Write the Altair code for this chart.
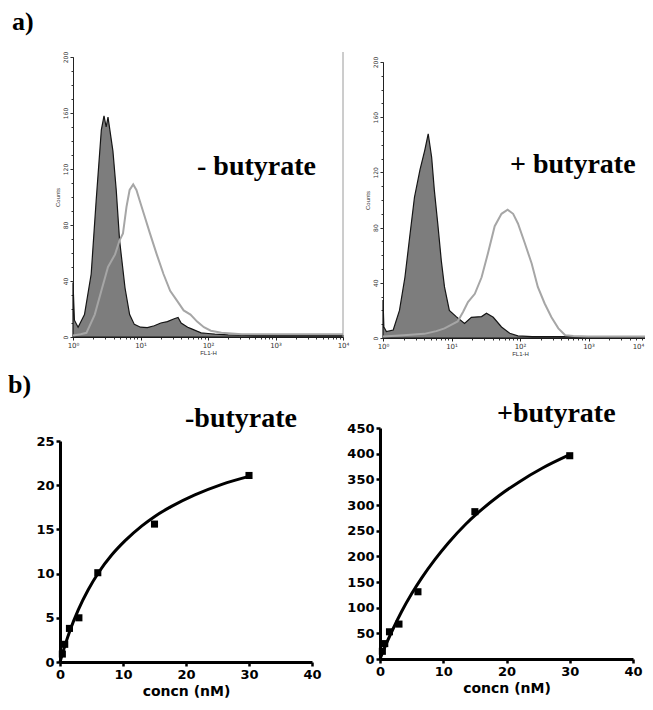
import altair as alt
import pandas as pd

W, H = 637, 694

# ---------------- a) flow cytometry histograms (FL1-H value, counts) ----------------
minus_ctrl_fl = [1.0, 1.05, 1.19, 1.48, 1.86, 2.2, 2.63, 2.88, 3.1, 3.3, 3.9, 4.37, 4.9, 5.9, 6.9, 8.1, 10,
                 12.6, 16, 20, 25, 31.6, 36, 40, 50, 56, 70, 79, 100, 126, 200, 500, 1000, 3000, 10000]
minus_ctrl_cnt = [39, 12, 7, 16, 45, 97, 148, 158, 150, 157, 133, 105, 69, 35, 16, 9, 7,
                  6.7, 8, 10, 11, 13, 14, 10, 7, 6, 4, 3, 2.5, 2, 1.5, 1, 1, 1, 1]
minus_stain_fl = [1, 1.3, 1.58, 2.1, 2.63, 3.3, 4.2, 4.9, 5.5, 6.2, 6.9, 7.8, 8.7, 9.8, 11.2, 13.8, 17.4,
                  21.9, 27.5, 34.7, 43.6, 55, 69, 87, 110, 158, 316, 1000, 3000, 10000]
minus_stain_cnt = [1, 2, 3, 16, 33, 50, 59, 69, 74, 93, 105, 109, 105, 97, 88, 74, 59,
                   45, 33, 26, 19, 16, 11, 7, 4.5, 3, 2, 2, 2, 2]
plus_ctrl_fl = [1.0, 1.03, 1.12, 1.41, 1.74, 2.09, 2.45, 2.88, 3.47, 4.07, 4.57, 5.13, 5.62, 6.3, 7.1, 7.9,
                9.3, 11.7, 15.5, 19.5, 27.5, 32.4, 40.7, 53.7, 70.8, 93, 150, 1000, 10000]
plus_ctrl_cnt = [27.5, 8, 4.6, 5.8, 20, 44, 73, 102, 122, 136, 148, 131, 107, 83, 56, 37,
                 20, 15.5, 10.6, 15, 15.5, 18, 15, 8, 3.4, 1.5, 1, 1, 1]
plus_stain_fl = [1, 2, 4, 6, 7.9, 12.3, 14.8, 17.4, 21.9, 27.5, 33.9, 42.7, 53.7, 66, 79.4, 93.3, 117,
                 148, 182, 229, 288, 363, 457, 600, 1000, 10000]
plus_stain_cnt = [1, 2, 3, 5, 7, 12, 19, 26, 32, 44, 61, 81, 90, 93, 90, 83, 69,
                  54, 37, 25, 15, 7, 2, 1.5, 1, 1]

hist_ticks = [1, 10, 100, 1000, 10000]
hist_tick_labels = ["10\u2070", "10\u00b9", "10\u00b2", "10\u00b3", "10\u2074"]
count_ticks = [0, 40, 80, 120, 160, 200]
count_minor = list(range(0, 201, 10))
fl_minor = [m * d for d in [1, 10, 100, 1000] for m in [2, 3, 4, 5, 6, 7, 8, 9]]

# ---------------- b) binding curves ----------------
conc = [0.375, 0.75, 1.5, 3, 6, 15, 30]
minus_bound = [0.9, 2.0, 3.8, 5.0, 10.1, 15.6, 21.1]
plus_bound = [15, 30, 53, 68, 131, 287, 396]
minus_fit_x = [0, 0.8, 1.6, 2.9, 4.5, 6.1, 8.2, 10.3, 13, 15.1, 17.7, 21.4, 25.7, 30]
minus_fit_y = [0, 1.9, 3.6, 5.9, 8.2, 10.1, 12.1, 13.7, 15.4, 16.5, 17.6, 18.9, 20.1, 21.0]
plus_fit_x = [0, 1, 2, 3.4, 5.0, 6.6, 8.7, 10.8, 13.5, 15.6, 18.8, 22, 25.7, 30]
plus_fit_y = [0, 30, 57, 92, 127, 158, 194, 226, 262, 286, 318, 345, 372, 398]
conc_ticks = [0, 10, 20, 30, 40]
minus_ticks = [0, 5, 10, 15, 20, 25]
plus_ticks = [0, 50, 100, 150, 200, 250, 300, 350, 400, 450]

label_expr = " : ".join(
    f"datum.value == {v} ? '{t}'" for v, t in zip(hist_ticks[:-1], hist_tick_labels[:-1])
) + f" : '{hist_tick_labels[-1]}'"


def hist_panel(cfl, ccnt, sfl, scnt, xr, yr, pull_last=False):
    xs = alt.Scale(type="log", domain=[1, 10000], range=xr)
    ys = alt.Scale(domain=[0, 200], range=yr, zero=False)
    extra = {}
    if pull_last:
        extra["labelOffset"] = {"condition": {"test": "datum.value == 10000", "value": -19}, "value": 0}
    xaxis = alt.Axis(orient="bottom", offset=yr[0] - H, values=hist_ticks, labelExpr=label_expr,
                     title="FL1-H", titleFontSize=6, titleFontWeight="normal", titlePadding=1,
                     labelFontSize=7, labelFont="DejaVu Sans", labelPadding=1, tickSize=3,
                     domainColor="#222", tickColor="#222", labelColor="#333", titleColor="#333",
                     grid=False, labelOverlap=False, labelFlush=False, **extra)
    yaxis = alt.Axis(orient="left", offset=-xr[0], values=count_ticks, labelAngle=270,
                     title="Counts", titleFontSize=6, titleFontWeight="normal", titlePadding=2,
                     labelFontSize=6, labelFont="DejaVu Sans", labelPadding=2, tickSize=3,
                     domainColor="#222", tickColor="#222", labelColor="#333", titleColor="#333",
                     grid=False, labelFlush=False, labelOverlap=False)
    xminor = alt.Axis(orient="bottom", offset=yr[0] - H, values=fl_minor, labels=False, domain=False,
                      tickSize=2, tickColor="#333", title=None, grid=False)
    yminor = alt.Axis(orient="left", offset=-xr[0], values=count_minor, labels=False, domain=False,
                      tickSize=2, tickColor="#333", title=None, grid=False)
    ctrl = pd.DataFrame({"fl": cfl, "n": ccnt})
    stain = pd.DataFrame({"fl": sfl, "n": scnt})
    area = alt.Chart(ctrl).mark_area(fill="#7d7d7d", stroke="#151515", strokeWidth=1.2,
                                      fillOpacity=1).encode(
        x=alt.X("fl:Q", scale=xs, axis=xaxis),
        y=alt.Y("n:Q", scale=ys, axis=yaxis))
    line = alt.Chart(stain).mark_line(color="#a6a6a6", strokeWidth=2).encode(
        x=alt.X("fl:Q", scale=xs, axis=xminor),
        y=alt.Y("n:Q", scale=ys, axis=yminor))
    return [area, line]


def bind_panel(px, py, fx, fy, ydom, yticks, xr, yr):
    xs = alt.Scale(domain=[0, 40], range=xr)
    ys = alt.Scale(domain=ydom, range=yr)
    common = dict(domainColor="black", domainWidth=3, tickColor="black", tickWidth=2.5,
                  tickSize=4, labelFont="DejaVu Sans", labelFontWeight="bold", labelFontSize=13,
                  labelColor="black", grid=False, labelFlush=False, labelOverlap=False)
    xaxis = alt.Axis(orient="bottom", offset=yr[0] - H, values=conc_ticks, title="concn (nM)",
                     titleFont="DejaVu Sans", titleFontWeight="bold", titleFontSize=14,
                     titleColor="black", titlePadding=3, labelPadding=2, **common)
    yaxis = alt.Axis(orient="left", offset=-xr[0], values=yticks, title=None, labelPadding=2,
                     **common)
    fit = pd.DataFrame({"c": fx, "b": fy})
    pts = pd.DataFrame({"c": px, "b": py})
    line = alt.Chart(fit).mark_line(color="black", strokeWidth=3, interpolate="monotone").encode(
        x=alt.X("c:Q", scale=xs, axis=xaxis),
        y=alt.Y("b:Q", scale=ys, axis=yaxis))
    sq = alt.Chart(pts).mark_square(color="black", size=50, opacity=1).encode(
        x=alt.X("c:Q", scale=xs, axis=None),
        y=alt.Y("b:Q", scale=ys, axis=None))
    return [line, sq]


def label(txt, x, y, size, font="Liberation Serif"):
    return alt.Chart(pd.DataFrame({"t": [txt]})).mark_text(
        font=font, fontWeight="bold", fontSize=size, align="left", baseline="alphabetic",
        color="black").encode(text="t:N", x=alt.value(x), y=alt.value(y))


layers = []
layers += hist_panel(minus_ctrl_fl, minus_ctrl_cnt, minus_stain_fl, minus_stain_cnt, [65, 335], [329, 49])
layers += hist_panel(plus_ctrl_fl, plus_ctrl_cnt, plus_stain_fl, plus_stain_cnt, [375, 649], [330, 54],
                     pull_last=True)
layers += bind_panel(conc, minus_bound, minus_fit_x, minus_fit_y, [0, 25], minus_ticks, [52, 304], [654, 433])
layers += bind_panel(conc, plus_bound, plus_fit_x, plus_fit_y, [0, 450], plus_ticks, [372, 625], [651, 420])

border = alt.Chart(pd.DataFrame({"a": [0]})).mark_rule(color="#9a9a9a", strokeWidth=1).encode(
    x=alt.value(335), y=alt.value(44), y2=alt.value(329))
layers.append(border)

layers.append(label("a)", 4, 22, 26))
layers.append(label("b)", 0, 385, 26))
layers.append(label("- butyrate", 189, 167, 28))
layers.append(label("+ butyrate", 502, 165, 28))
layers.append(label("-butyrate", 177, 419, 28))
layers.append(label("+butyrate", 489, 414, 28))

chart = alt.layer(*layers).resolve_scale(x="independent", y="independent").resolve_axis(
    x="independent", y="independent").properties(
    width=W, height=H, autosize=alt.AutoSizeParams(type="none"), padding=0
).configure_view(stroke=None)

chart.save("out.html", embed_options={"renderer": "svg", "actions": False})
